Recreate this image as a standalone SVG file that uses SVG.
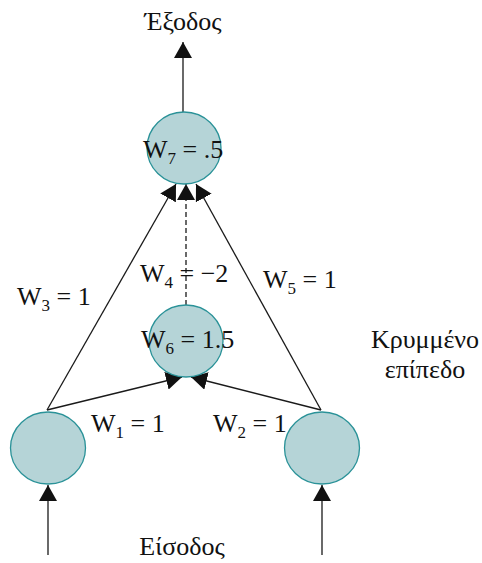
<svg xmlns="http://www.w3.org/2000/svg" width="482" height="563" viewBox="0 0 482 563">
<style>
.node{fill:#b5d4d7;stroke:#2a9298;stroke-width:1.3}
.ln{stroke:#1a1a1a;stroke-width:1.3;fill:none}
.t{font-family:"Liberation Serif","Times New Roman",serif;font-size:26px;fill:#111}
.s{font-size:17px}
</style>
<defs>
<marker id="ah" viewBox="0 0 16 18" refX="16" refY="9" markerWidth="16" markerHeight="18" markerUnits="userSpaceOnUse" orient="auto">
<path d="M0,0 L16,9 L0,18 z" fill="#111"/>
</marker>
</defs>
<rect width="482" height="563" fill="#fff"/>
<g id="connectors">
<line class="ln" x1="183" y1="112" x2="183" y2="42" marker-end="url(#ah)"/>
<line class="ln" x1="186" y1="305" x2="186" y2="184" stroke-dasharray="5,3" marker-end="url(#ah)"/>
<line class="ln" x1="47" y1="410" x2="176" y2="184" marker-end="url(#ah)"/>
<line class="ln" x1="321" y1="410" x2="196" y2="184" marker-end="url(#ah)"/>
<line class="ln" x1="47" y1="410" x2="182" y2="377" marker-end="url(#ah)"/>
<line class="ln" x1="321" y1="410" x2="191" y2="377" marker-end="url(#ah)"/>
<line class="ln" x1="48" y1="555" x2="48" y2="485" marker-end="url(#ah)"/>
<line class="ln" x1="322" y1="555" x2="322" y2="485" marker-end="url(#ah)"/>
</g>
<g id="n7"><ellipse class="node" cx="184" cy="148" rx="37" ry="36"/></g>
<g id="n6"><ellipse class="node" cx="186" cy="341" rx="37" ry="36"/></g>
<g id="in1"><ellipse class="node" cx="48" cy="448" rx="37.5" ry="36"/></g>
<g id="in2"><ellipse class="node" cx="322" cy="448" rx="37.5" ry="36"/></g>
<g id="labels">
<text class="t" x="183" y="30" text-anchor="middle">Έξοδος</text>
<text class="t" x="143" y="158">W<tspan class="s" dy="6">7</tspan><tspan dy="-6"> = .5</tspan></text>
<text class="t" x="140" y="282">W<tspan class="s" dy="6">4</tspan><tspan dy="-6"> = −2</tspan></text>
<text class="t" x="141" y="348">W<tspan class="s" dy="6">6</tspan><tspan dy="-6"> = 1.5</tspan></text>
<text class="t" x="17" y="305">W<tspan class="s" dy="6">3</tspan><tspan dy="-6"> = 1</tspan></text>
<text class="t" x="263" y="288">W<tspan class="s" dy="6">5</tspan><tspan dy="-6"> = 1</tspan></text>
<text class="t" x="91" y="432">W<tspan class="s" dy="6">1</tspan><tspan dy="-6"> = 1</tspan></text>
<text class="t" x="213" y="432">W<tspan class="s" dy="6">2</tspan><tspan dy="-6"> = 1</tspan></text>
<text class="t" x="425" y="348" text-anchor="middle">Κρυμμένο</text>
<text class="t" x="425" y="378" text-anchor="middle">επίπεδο</text>
<text class="t" x="182" y="555" text-anchor="middle">Είσοδος</text>
</g>
</svg>
